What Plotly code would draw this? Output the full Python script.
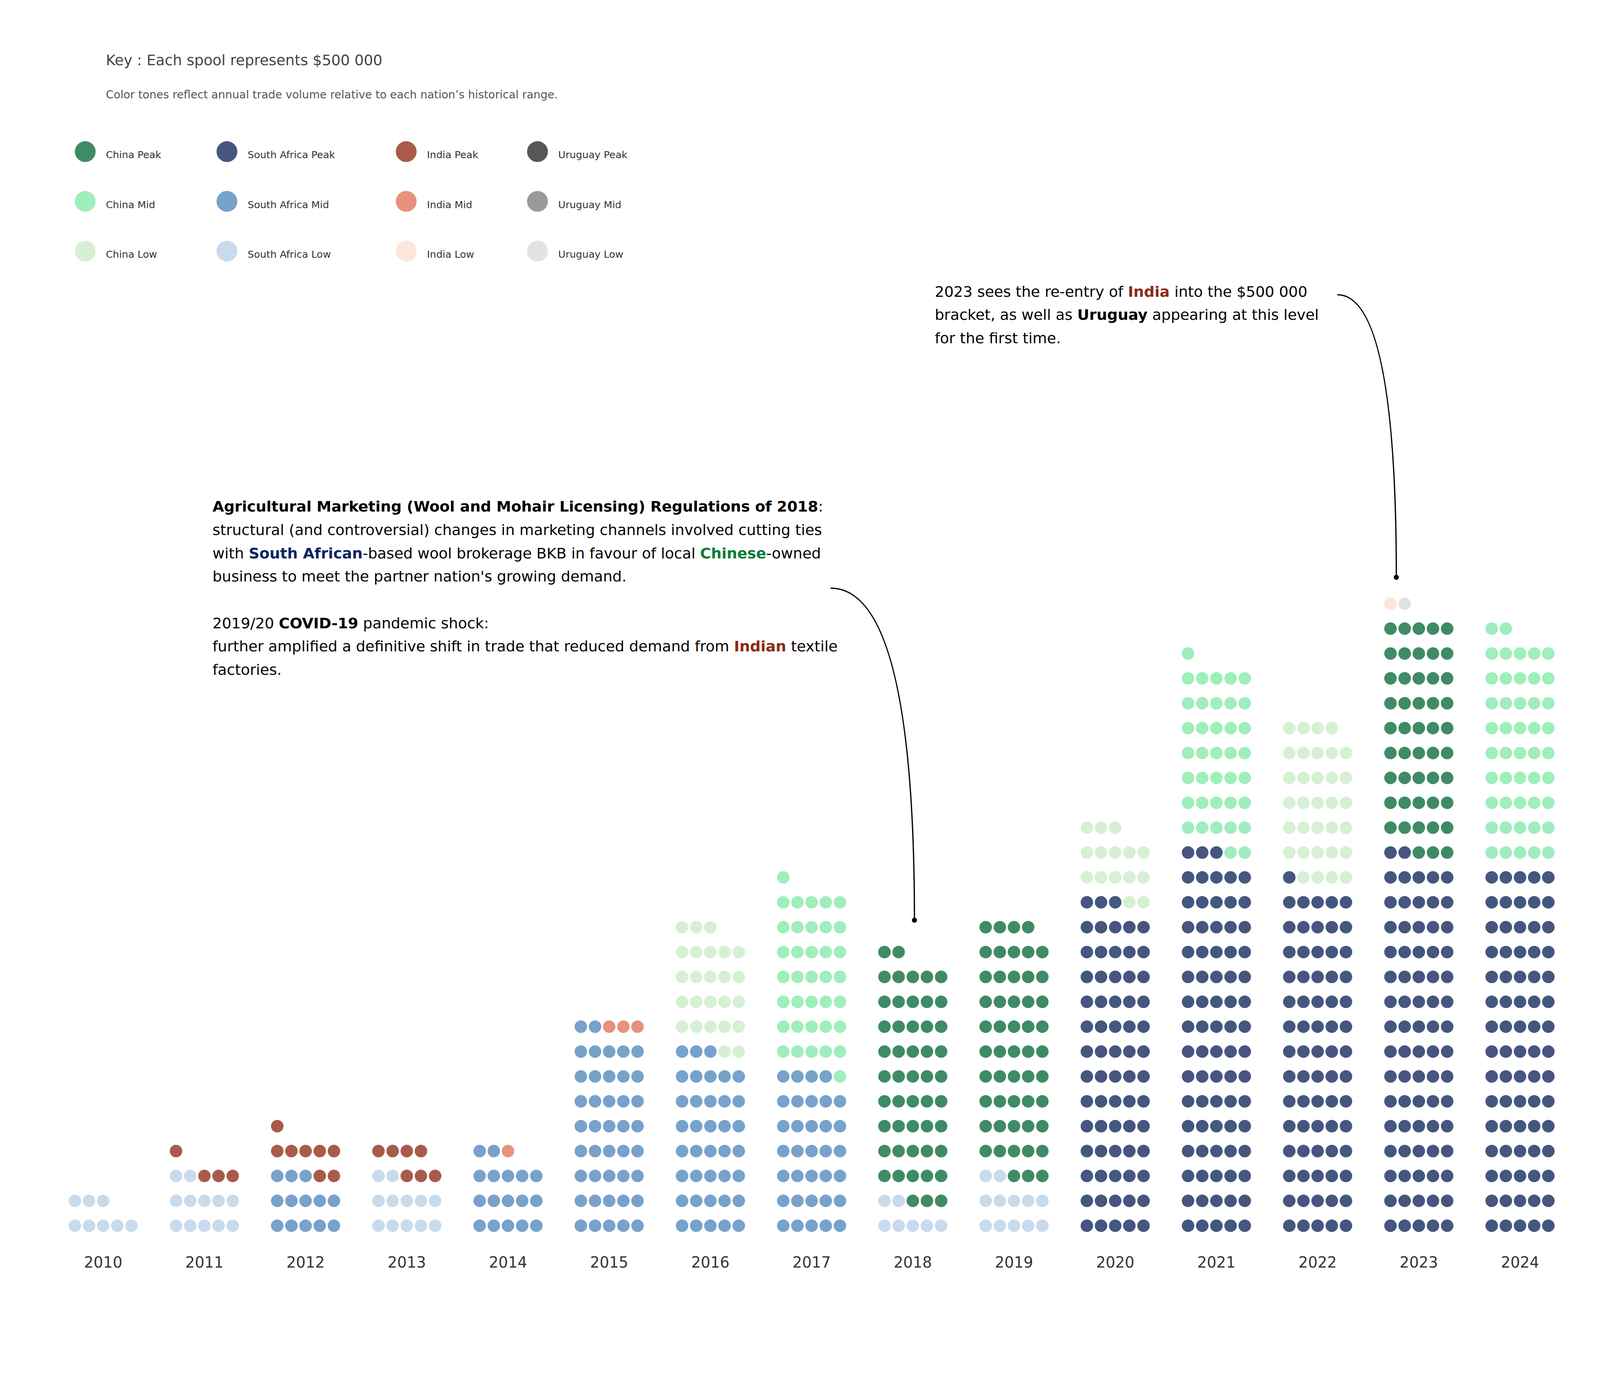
import plotly.graph_objects as go

# spools of $500 000 per nation per year, stacked bottom-up in rows of five
YEARS = list(range(2010, 2025))
SOUTH_AFRICA = [8, 12, 13, 12, 17, 42, 38, 34, 7, 12, 68, 78, 71, 77, 75]
SOUTH_AFRICA_TONE = ["Low", "Low", "Mid", "Low", "Mid", "Mid", "Mid", "Mid",
                     "Low", "Low", "Peak", "Peak", "Peak", "Peak", "Peak"]
CHINA = [0, 0, 0, 0, 0, 0, 25, 37, 50, 52, 15, 38, 33, 48, 47]
CHINA_TONE = [None] * 6 + ["Low", "Mid", "Peak", "Peak", "Low", "Mid", "Low", "Peak", "Mid"]
INDIA = [0, 4, 8, 7, 1, 3, 0, 0, 0, 0, 0, 0, 0, 1, 0]
INDIA_TONE = [None, "Peak", "Peak", "Peak", "Mid", "Mid"] + [None] * 7 + ["Low", None]
URUGUAY = [0] * 13 + [1, 0]
URUGUAY_TONE = [None] * 13 + ["Low", None]

KEY_COUNTRIES = ["China", "South Africa", "India", "Uruguay"]
STACK_ORDER = ["South Africa", "China", "India", "Uruguay"]
TONES = ["Peak", "Mid", "Low"]

COLORS = {
    ("China", "Peak"): "#3f8b65", ("China", "Mid"): "#9feebb", ("China", "Low"): "#d6f0d3",
    ("South Africa", "Peak"): "#45567f", ("South Africa", "Mid"): "#77a2cb",
    ("South Africa", "Low"): "#c8dbec",
    ("India", "Peak"): "#a85b4b", ("India", "Mid"): "#e5937a", ("India", "Low"): "#fce5db",
    ("Uruguay", "Peak"): "#575757", ("Uruguay", "Mid"): "#9a9a9a", ("Uruguay", "Low"): "#e2e2e2",
}

# layout is worked out on a 7200 x 3521 sheet and placed in paper units;
# the page actually renders about 4100 px wide, so sizes are scaled by S
W, H = 7200, 3521
S = 0.567
PX_YEAR, PX_ROW, PX_COL = 457.2, 64.0, 64.0
X0_PX, Y0_PX = 452.0, 3145.0  # centre of 2010 / bottom row
COL_STEP = PX_COL / PX_YEAR
FONT = "DejaVu Sans"
LINE = 60  # text line pitch on the sheet


def px_x(p):
    return 2010 + (p - X0_PX) / PX_YEAR


def px_y(p):
    return (Y0_PX - p) / PX_ROW


def main() -> None:
    series = {
        "South Africa": (SOUTH_AFRICA, SOUTH_AFRICA_TONE),
        "China": (CHINA, CHINA_TONE),
        "India": (INDIA, INDIA_TONE),
        "Uruguay": (URUGUAY, URUGUAY_TONE),
    }
    points = {(c, t): ([], []) for c in KEY_COUNTRIES for t in TONES}
    for i, year in enumerate(YEARS):
        k = 0
        for country in STACK_ORDER:
            counts, tones = series[country]
            for _ in range(counts[i]):
                xs, ys = points[(country, tones[i])]
                xs.append(year + (k % 5 - 2) * COL_STEP)
                ys.append(k // 5)
                k += 1

    fig = go.Figure()
    for key, (xs, ys) in points.items():
        if not xs:
            continue
        fig.add_trace(go.Scatter(
            x=xs, y=ys, mode="markers", hoverinfo="skip",
            marker=dict(size=32, color=COLORS[key], line=dict(width=0)),
        ))

    fig.add_trace(go.Scatter(
        x=YEARS, y=[px_y(3243)] * len(YEARS), mode="text", text=[str(y) for y in YEARS],
        textfont=dict(family=FONT, size=68 * S, color="#333333"), hoverinfo="skip",
    ))

    # callout curves
    left_mid = 1505
    left_top = left_mid - 3.5 * LINE
    right_top = 802 - LINE
    arrows = [((3738, left_top + 3.5 * LINE), (4117, 2359)),
              ((6027, right_top + 8), (6294, 1477))]
    ends_x, ends_y = [], []
    for (sx, sy), (ex, ey) in arrows:
        x0, y0, x1, y1 = px_x(sx), px_y(sy), px_x(ex), px_y(ey)
        fig.add_shape(type="path", xref="x", yref="y",
                      path=f"M {x0},{y0} Q {x1},{y0} {x1},{y1}",
                      line=dict(color="black", width=3.2))
        ends_x.append(x1)
        ends_y.append(y1)
    fig.add_trace(go.Scatter(x=ends_x, y=ends_y, mode="markers", hoverinfo="skip",
                             marker=dict(size=13, color="black")))

    # key
    key_col_x = [371, 1011, 1821, 2414]
    key_row_y = [382, 510, 638]
    kx, ky, kc = [], [], []
    for ci, country in enumerate(KEY_COUNTRIES):
        for ti, tone in enumerate(TONES):
            kx.append(key_col_x[ci])
            ky.append(key_row_y[ti])
            kc.append(COLORS[(country, tone)])
            fig.add_annotation(
                xref="paper", yref="paper", x=(key_col_x[ci] + 90) / W,
                y=1 - (key_row_y[ti] + 8) / H, xanchor="left", yanchor="middle",
                text=f"{country} {tone}", showarrow=False,
                font=dict(family=FONT, size=45 * S, color="#333333"),
            )
    fig.add_trace(go.Scatter(x=kx, y=ky, xaxis="x2", yaxis="y2", mode="markers",
                             hoverinfo="skip", marker=dict(size=94 * S, color=kc)))

    def note(text, x, y, size=67, color="black"):
        fig.add_annotation(xref="paper", yref="paper", x=x / W, y=1 - y / H,
                           xanchor="left", yanchor="middle", text=text, showarrow=False,
                           align="left", font=dict(family=FONT, size=size * S, color=color))

    note("Key : Each spool represents $500 000", 461, 147, size=66, color="#444444")
    note("Color tones reflect annual trade volume relative to each nation’s historical range.",
         461, 236, size=50, color="#555555")

    sa = '<b><span style="color:#0d2463">South African</span></b>'
    cn = '<b><span style="color:#0b7a3a">Chinese</span></b>'
    ind = '<b><span style="color:#8b2a14">Indian</span></b>'
    left_lines = [
        "<b>Agricultural Marketing (Wool and Mohair Licensing) Regulations of 2018</b>:",
        "structural (and controversial) changes in marketing channels involved cutting ties",
        f"with {sa}-based wool brokerage BKB in favour of local {cn}-owned",
        "business to meet the partner nation's growing demand.",
        "",
        "2019/20 <b>COVID-19</b> pandemic shock:",
        f"further amplified a definitive shift in trade that reduced demand from {ind} textile",
        "factories.",
    ]
    for i, line in enumerate(left_lines):
        if line:
            note(line, 942, left_top + i * LINE)

    right_lines = [
        '2023 sees the re-entry of <b><span style="color:#8b2a14">India</span></b> into the $500 000',
        "bracket, as well as <b>Uruguay</b> appearing at this level",
        "for the first time.",
    ]
    for i, line in enumerate(right_lines):
        note(line, 4206, right_top + i * LINE)

    fig.update_layout(
        autosize=True, margin=dict(l=0, r=0, t=0, b=0),
        paper_bgcolor="white", plot_bgcolor="white", showlegend=False,
        xaxis=dict(range=[px_x(0), px_x(W)], visible=False, domain=[0, 1]),
        yaxis=dict(range=[px_y(H), px_y(0)], visible=False, domain=[0, 1]),
        xaxis2=dict(range=[0, W], visible=False, overlaying="x"),
        yaxis2=dict(range=[H, 0], visible=False, overlaying="y"),
    )
    fig.write_html("out.html")


if __name__ == "__main__":
    main()
